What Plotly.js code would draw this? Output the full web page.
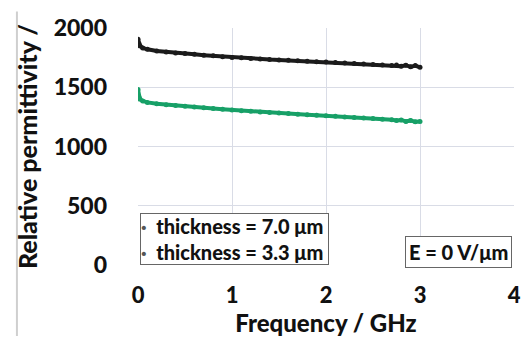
<!DOCTYPE html>
<html>
<head>
<meta charset="utf-8">
<script src="https://cdn.plot.ly/plotly-3.0.1.min.js"></script>
<style>html,body{margin:0;padding:0;background:#fff}#chart{width:531px;height:337px}</style>
</head>
<body>
<div id="chart"></div>
<script>
// Frequency (GHz)
const freq = [0, 0.01, 0.02, 0.05, 0.1, 0.2, 0.3, 0.4, 0.5, 0.6, 0.7, 0.8, 0.9, 1.0, 1.1, 1.2, 1.3, 1.4, 1.5, 1.6, 1.7, 1.8, 1.9, 2.0, 2.1, 2.2, 2.3, 2.4, 2.5, 2.6, 2.7, 2.75, 2.8, 2.85, 2.9, 2.95, 3.0];
// thickness = 7.0 um
const eps70 = [1905, 1870, 1850, 1832, 1820, 1806, 1797, 1790, 1784, 1778, 1771, 1765, 1758, 1752, 1748, 1743, 1738, 1734, 1731, 1727, 1723, 1719, 1716, 1713, 1709, 1705, 1701, 1697, 1692, 1688, 1684, 1688, 1678, 1686, 1672, 1683, 1668];
// thickness = 3.3 um
const eps33 = [1480, 1418, 1400, 1385, 1372, 1360, 1352, 1345, 1339, 1333, 1327, 1320, 1314, 1308, 1302, 1297, 1292, 1287, 1283, 1278, 1273, 1268, 1264, 1260, 1255, 1250, 1245, 1240, 1236, 1231, 1226, 1220, 1224, 1212, 1220, 1208, 1212];
const seriesNames = ["thickness = 7.0 μm", "thickness = 3.3 μm"];
const xTicks = [0, 1, 2, 3, 4];
const yTicks = [0, 500, 1000, 1500, 2000];

const F = "Lato, 'Open Sans', sans-serif";
const W = 900;
const bullet = '<span style="color:#555">·</span>  ';
const traces = [
  {x: freq, y: eps70, name: seriesNames[0], mode: "lines+markers", line: {color: "#1b1b1b", width: 4}, marker: {color: "#1b1b1b", size: 5}},
  {x: freq, y: eps33, name: seriesNames[1], mode: "lines+markers", line: {color: "#17a067", width: 4}, marker: {color: "#17a067", size: 5}}
];
const layout = {
  width: 531, height: 337,
  margin: {l: 138, r: 17, t: 28, b: 72},
  paper_bgcolor: "#fff", plot_bgcolor: "#fff",
  showlegend: false,
  font: {family: F, color: "#111"},
  xaxis: {
    range: [0, 4], tickvals: xTicks, ticktext: xTicks.map(String),
    showgrid: true, gridcolor: "#d9dce6", zeroline: false, showline: false,
    ticks: "", ticklabelstandoff: 15,
    tickfont: {size: 22, weight: W, family: F},
    title: {text: "Frequency / GHz", font: {size: 24, weight: W, family: F}, standoff: 2}
  },
  yaxis: {
    range: [0, 2000], tickvals: yTicks, ticktext: yTicks.map(String),
    showgrid: true, gridcolor: "#d9dce6", zeroline: false, showline: false,
    ticks: "", ticklabelstandoff: 30,
    tickfont: {size: 23, weight: W, family: F},
    title: {text: "Relative permittivity /", font: {size: 25, weight: W, family: F}, standoff: 8}
  },
  annotations: [
    {xref: "paper", yref: "paper", x: 0.005, y: 0.0, xanchor: "left", yanchor: "bottom",
     text: bullet + seriesNames[0] + " <br>" + bullet + seriesNames[1] + " ", align: "left", showarrow: false,
     font: {size: 20, weight: W, family: F, color: "#111"},
     bordercolor: "#666", borderwidth: 1, borderpad: 0, bgcolor: "#fff"},
    {xref: "paper", yref: "paper", x: 0.995, y: -0.012, xanchor: "right", yanchor: "bottom",
     text: "E = 0 V/μm", showarrow: false,
     font: {size: 20, weight: W, family: F, color: "#111"},
     bordercolor: "#666", borderwidth: 1, borderpad: 3, bgcolor: "#fff"}
  ],
  shapes: [
    {type: "line", xref: "paper", yref: "paper", x0: -0.322, x1: -0.322, y0: -0.3, y1: 1.07, line: {color: "#cfcfcf", width: 2}}
  ]
};
Plotly.newPlot("chart", traces, layout, {displayModeBar: false, staticPlot: true});
</script>
</body>
</html>
